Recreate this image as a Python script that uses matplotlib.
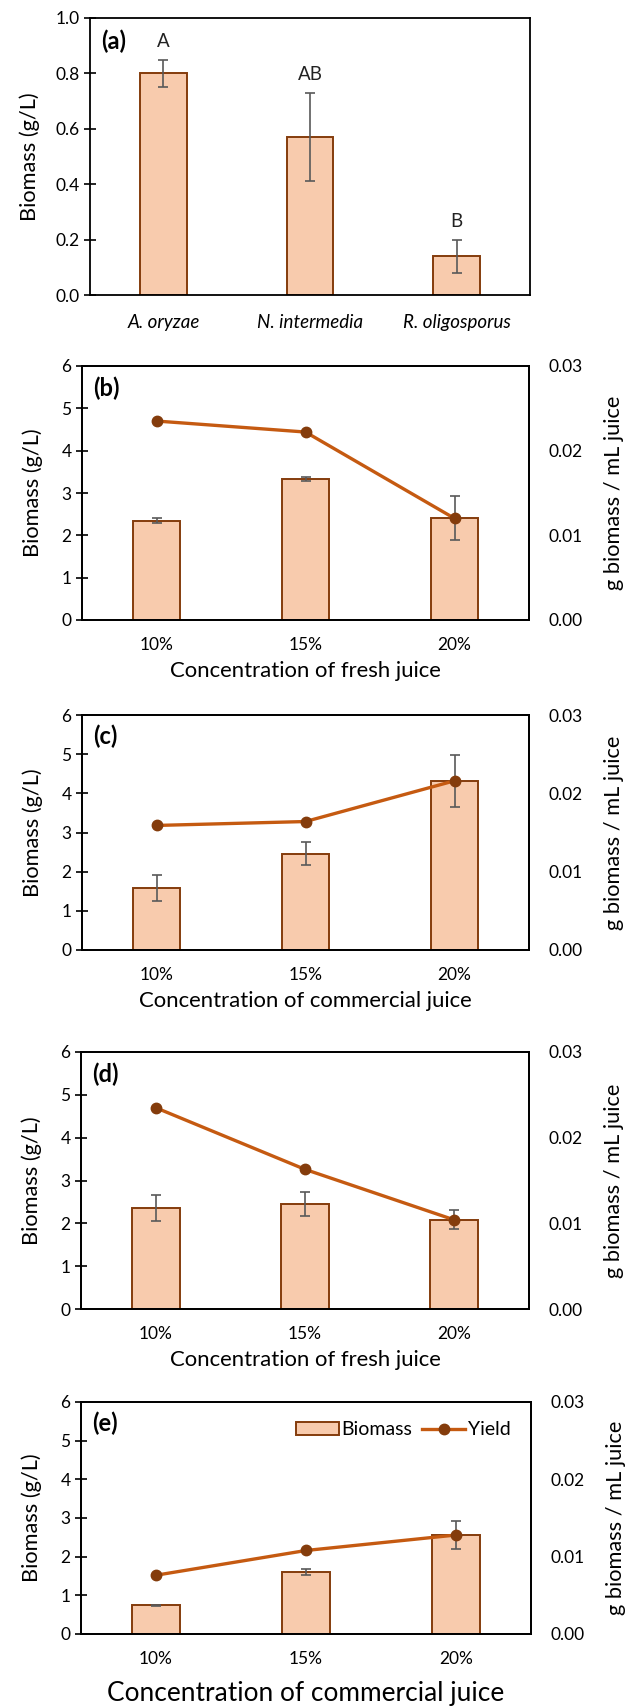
import matplotlib.pyplot as plt
import numpy as np

plt.rcParams['font.family'] = ['Lato', 'DejaVu Sans']

W, H = 633, 1707

fungi = ['A. oryzae', 'N. intermedia', 'R. oligosporus']
fungi_biomass = [0.80, 0.57, 0.14]
fungi_err = [0.05, 0.16, 0.06]
fungi_letters = ['A', 'AB', 'B']

conc = ['10%', '15%', '20%']

# (b) fresh juice
b_biomass = [2.35, 3.33, 2.42]
b_err = [0.05, 0.04, 0.52]
b_yield = [0.0235, 0.0222, 0.0120]

# (c) commercial juice
c_biomass = [1.58, 2.46, 4.32]
c_err = [0.33, 0.29, 0.66]
c_yield = [0.0159, 0.0164, 0.0216]

# (d) fresh juice
d_biomass = [2.36, 2.45, 2.08]
d_err = [0.31, 0.28, 0.22]
d_yield = [0.0235, 0.0163, 0.0104]

# (e) commercial juice
e_biomass = [0.74, 1.61, 2.57]
e_err = [0.01, 0.08, 0.36]
e_yield = [0.0076, 0.0108, 0.0128]

bar_fill = '#F8CBAD'
bar_edge = '#843C0C'
line_col = '#C55A11'
err_col = '#595959'
tick_fs = 12.5
label_fs = 15.7

fig = plt.figure(figsize=(W / 100, H / 100), dpi=100)


def make_axes(left, right, top, bottom):
    return fig.add_axes([left / W, 1 - bottom / H, (right - left) / W, (bottom - top) / H])


def style(ax):
    for s in ax.spines.values():
        s.set_linewidth(1.3)
        s.set_color('black')
    ax.tick_params(axis='y', direction='inout', length=9, width=1.2, labelsize=tick_fs, pad=3)
    ax.tick_params(axis='x', length=0, labelsize=tick_fs, pad=12)
    ax.set_xlim(-0.5, 2.5)


def draw_bars(ax, vals, errs):
    x = np.arange(len(vals))
    ax.bar(x, vals, width=0.32, color=bar_fill, edgecolor=bar_edge, linewidth=1.4, zorder=2,
           label='Biomass')
    ax.errorbar(x, vals, yerr=errs, fmt='none', ecolor=err_col, elinewidth=1.2,
                capsize=3.5, capthick=1.2, zorder=3)
    return x


# panel (a)
ax = make_axes(90, 530, 18, 295)
style(ax)
x = draw_bars(ax, fungi_biomass, fungi_err)
for xi, v, e, t in zip(x, fungi_biomass, fungi_err, fungi_letters):
    ax.text(xi, v + e + 0.035, t, ha='center', va='bottom', fontsize=13.5, color='#222222')
ax.set_ylim(0, 1.0)
ax.set_yticks(np.arange(0, 1.01, 0.2))
ax.yaxis.set_major_formatter(plt.FormatStrFormatter('%.1f'))
ax.set_xticks(x)
ax.set_xticklabels(fungi, style='italic', fontsize=13.5)
ax.tick_params(axis='x', pad=14)
ax.set_ylabel('Biomass (g/L)', fontsize=label_fs, labelpad=11)
ax.text(0.025, 0.96, '(a)', transform=ax.transAxes, fontsize=17, fontweight='bold', va='top')

panels = [
    ('(b)', (82, 529, 366, 620), b_biomass, b_err, b_yield, 'Concentration of fresh juice', 15.9),
    ('(c)', (82, 529, 715, 950), c_biomass, c_err, c_yield, 'Concentration of commercial juice', 15.9),
    ('(d)', (81, 529, 1052, 1309), d_biomass, d_err, d_yield, 'Concentration of fresh juice', 15.9),
    ('(e)', (81, 531, 1402, 1634), e_biomass, e_err, e_yield, 'Concentration of commercial juice', 18.9),
]

for tag, box, bio, err, yld, xlab, xfs in panels:
    ax = make_axes(*box)
    style(ax)
    x = draw_bars(ax, bio, err)
    ax.set_ylim(0, 6)
    ax.set_yticks(range(0, 7))
    ax.set_xticks(x)
    ax.set_xticklabels(conc)
    ax.set_ylabel('Biomass (g/L)', fontsize=label_fs, labelpad=13)
    ax.set_xlabel(xlab, fontsize=xfs, labelpad=6 if tag != '(e)' else 10)
    ax.text(0.025, 0.96, tag, transform=ax.transAxes, fontsize=17, fontweight='bold', va='top')

    ax2 = ax.twinx()
    ax2.plot(x, yld, color=line_col, lw=2.4, marker='o', markersize=7.5,
             markerfacecolor=bar_edge, markeredgecolor=bar_edge, zorder=4, label='Yield')
    ax2.set_ylim(0, 0.03)
    ax2.set_yticks([0, 0.01, 0.02, 0.03])
    ax2.yaxis.set_major_formatter(plt.FormatStrFormatter('%.2f'))
    ax2.tick_params(axis='y', length=0, labelsize=tick_fs, pad=14)
    for s in ax2.spines.values():
        s.set_linewidth(1.3)
    ax2.set_ylabel('g biomass / mL juice', fontsize=label_fs, labelpad=15)

    if tag == '(e)':
        h1, l1 = ax.get_legend_handles_labels()
        h2, l2 = ax2.get_legend_handles_labels()
        ax2.legend(h1 + h2, l1 + l2, loc='upper right', ncol=2, frameon=False,
                   fontsize=14, handlelength=2.2, handletextpad=0.15, columnspacing=0.5,
                   borderaxespad=0.3, bbox_to_anchor=(0.985, 0.975))

fig.savefig('out.png', dpi=100)
